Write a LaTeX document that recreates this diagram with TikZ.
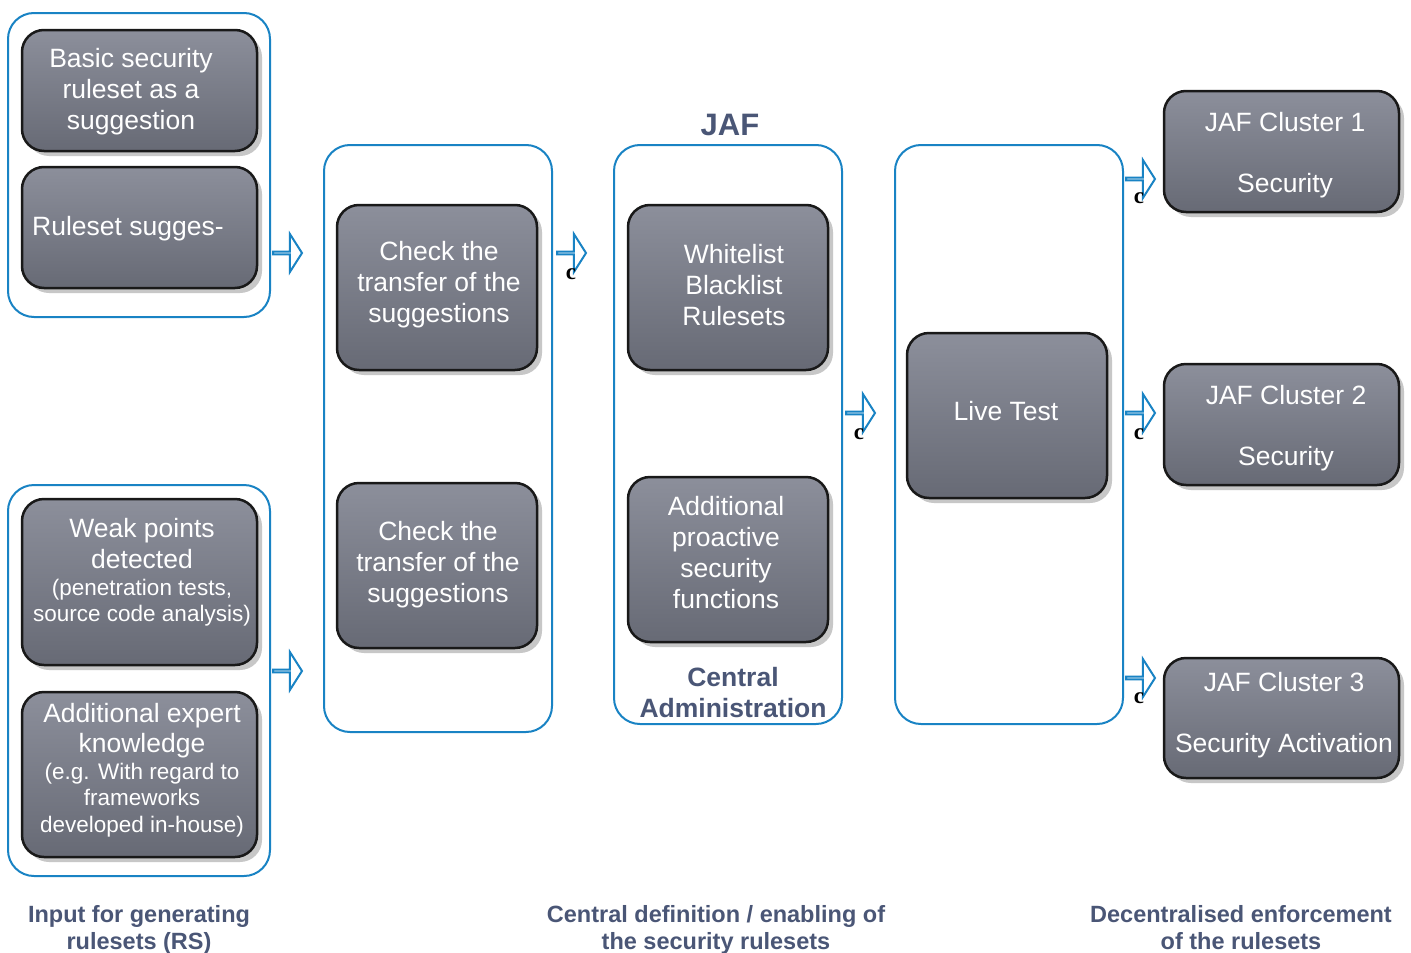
\documentclass[tikz,border=0pt]{standalone}
\usepackage{fontspec}
\setmainfont{Liberation Sans}
\newfontfamily\seriff{Liberation Serif}
\usetikzlibrary{shapes.arrows,shadows}
\definecolor{cblue}{RGB}{25,131,196}
\definecolor{lbl}{RGB}{74,86,118}
\definecolor{gtop}{RGB}{140,143,155}
\definecolor{gbot}{RGB}{103,106,117}
\newcommand{\bigf}{\fontsize{26.5}{31}\selectfont}
\newcommand{\smallf}{\fontsize{22.5}{26}\selectfont}
\tikzset{
 cont/.style={draw=cblue, line width=2pt, rounded corners=26pt, rectangle, inner sep=0pt},
 gbox/.style={draw=black!90, line width=2.5pt, rounded corners=22pt, rectangle,
   top color=gtop, bottom color=gbot, inner sep=0pt,
   drop shadow={shadow xshift=5pt, shadow yshift=-5pt, fill=black!22, opacity=1}},
 btext/.style={text=white, align=center, font=\bigf, inner sep=0pt},
 blk/.style={single arrow, draw=cblue, line width=2pt, fill=white, minimum height=29pt,
   minimum width=38pt, single arrow head extend=14pt, single arrow tip angle=115,
   inner sep=0pt, anchor=tail},
 cmark/.style={font=\seriff\bfseries\fontsize{23}{23}\selectfont, inner sep=0pt},
 lab/.style={text=lbl, align=center, inner sep=0pt}
}
\begin{document}
\begin{tikzpicture}[x=1pt,y=-1pt]
\useasboundingbox[fill=white] (0,0) rectangle (1411,953);
% containers
\node[cont, minimum width=262pt, minimum height=304pt] (c1) at (139,165) {};
\node[cont, minimum width=262pt, minimum height=391pt] (c2) at (139,680.5) {};
\node[cont, minimum width=228pt, minimum height=587pt] (c3) at (438,438.5) {};
\node[cont, minimum width=228pt, minimum height=579pt] (c4) at (728,434.5) {};
\node[cont, minimum width=228pt, minimum height=579pt] (c5) at (1009,434.5) {};
% gray boxes
\node[gbox, minimum width=235pt, minimum height=121pt] (basic) at (139.5,90.5) {};
\node[gbox, minimum width=235pt, minimum height=121pt] (rules) at (139.5,227.5) {};
\node[gbox, minimum width=235pt, minimum height=166pt] (weak) at (139.5,582) {};
\node[gbox, minimum width=235pt, minimum height=165pt] (expert) at (139.5,774.5) {};
\node[gbox, minimum width=200pt, minimum height=165pt] (check1) at (437,287.5) {};
\node[gbox, minimum width=200pt, minimum height=165pt] (check2) at (437,565.5) {};
\node[gbox, minimum width=200pt, minimum height=165pt] (white) at (728,287.5) {};
\node[gbox, minimum width=200pt, minimum height=165pt] (proact) at (728,559.5) {};
\node[gbox, minimum width=200pt, minimum height=165pt] (live) at (1007,415.5) {};
\node[gbox, minimum width=235pt, minimum height=121pt] (jaf1) at (1281.5,151.5) {};
\node[gbox, minimum width=235pt, minimum height=121pt] (jaf2) at (1281.5,424.5) {};
\node[gbox, minimum width=235pt, minimum height=120pt] (jaf3) at (1281.5,718) {};
% box texts
\node[btext] (basict) at (131,92) {Basic security\\ruleset as a\\suggestion};
\node[btext, anchor=west] (rulest) at (32,229) {Ruleset sugges-};
\node[btext] (weakt) at (142,572.5) {Weak points\\detected\\[-4pt]\smallf (penetration tests,\\[-5pt]\smallf source code analysis)};
\node[btext] (expertt) at (142,770) {Additional expert\\[-1pt]knowledge\\[-4pt]\smallf (e.g. With regard to\\[-5pt]\smallf frameworks\\[-4pt]\smallf developed in-house)};
\node[btext] (check1t) at (439,285) {Check the\\transfer of the\\suggestions};
\node[btext] (check2t) at (438,564.5) {Check the\\transfer of the\\suggestions};
\node[btext] (whitet) at (734,285.5) {Whitelist\\Blacklist\\Rulesets};
\node[btext] (proactt) at (726,553) {Additional\\proactive\\security\\functions};
\node[btext] (livet) at (1006,411) {Live Test};
\node[btext] (jaf1t) at (1285,155.5) {JAF Cluster 1\\[30pt]Security};
\node[btext] (jaf2t) at (1286,428) {JAF Cluster 2\\[30pt]Security};
\node[btext] (jaf3t) at (1284,715.5) {JAF Cluster 3\\[30pt]Security Activation};
% block arrows
\node[blk] (a1) at (272,253) {};
\node[blk] (a2) at (272,671) {};
\node[blk] (a3) at (556,253) {};
\node[blk] (a4) at (845,413) {};
\node[blk] (a5) at (1125,179) {};
\node[blk] (a6) at (1125,413) {};
\node[blk] (a7) at (1125,678) {};
\node[cmark] (m3) at (571,274) {c};
\node[cmark] (m4) at (859,434) {c};
\node[cmark] (m5) at (1139,198) {c};
\node[cmark] (m6) at (1139,434) {c};
\node[cmark] (m7) at (1139,698) {c};
% labels
\node[lab, font=\bfseries\fontsize{31}{36}\selectfont] (jaf) at (730,125) {JAF};
\node[lab, font=\bfseries\fontsize{26.5}{31}\selectfont] (central) at (733,693) {Central\\Administration};
\node[lab, font=\bfseries\fontsize{23.5}{27}\selectfont] (lab1) at (139,930) {Input for generating\\rulesets (RS)};
\node[lab, font=\bfseries\fontsize{23.5}{27}\selectfont] (lab2) at (716,930) {Central definition / enabling of\\the security rulesets};
\node[lab, font=\bfseries\fontsize{23.5}{27}\selectfont] (lab3) at (1241,928) {Decentralised enforcement\\of the rulesets};
\end{tikzpicture}
\end{document}
